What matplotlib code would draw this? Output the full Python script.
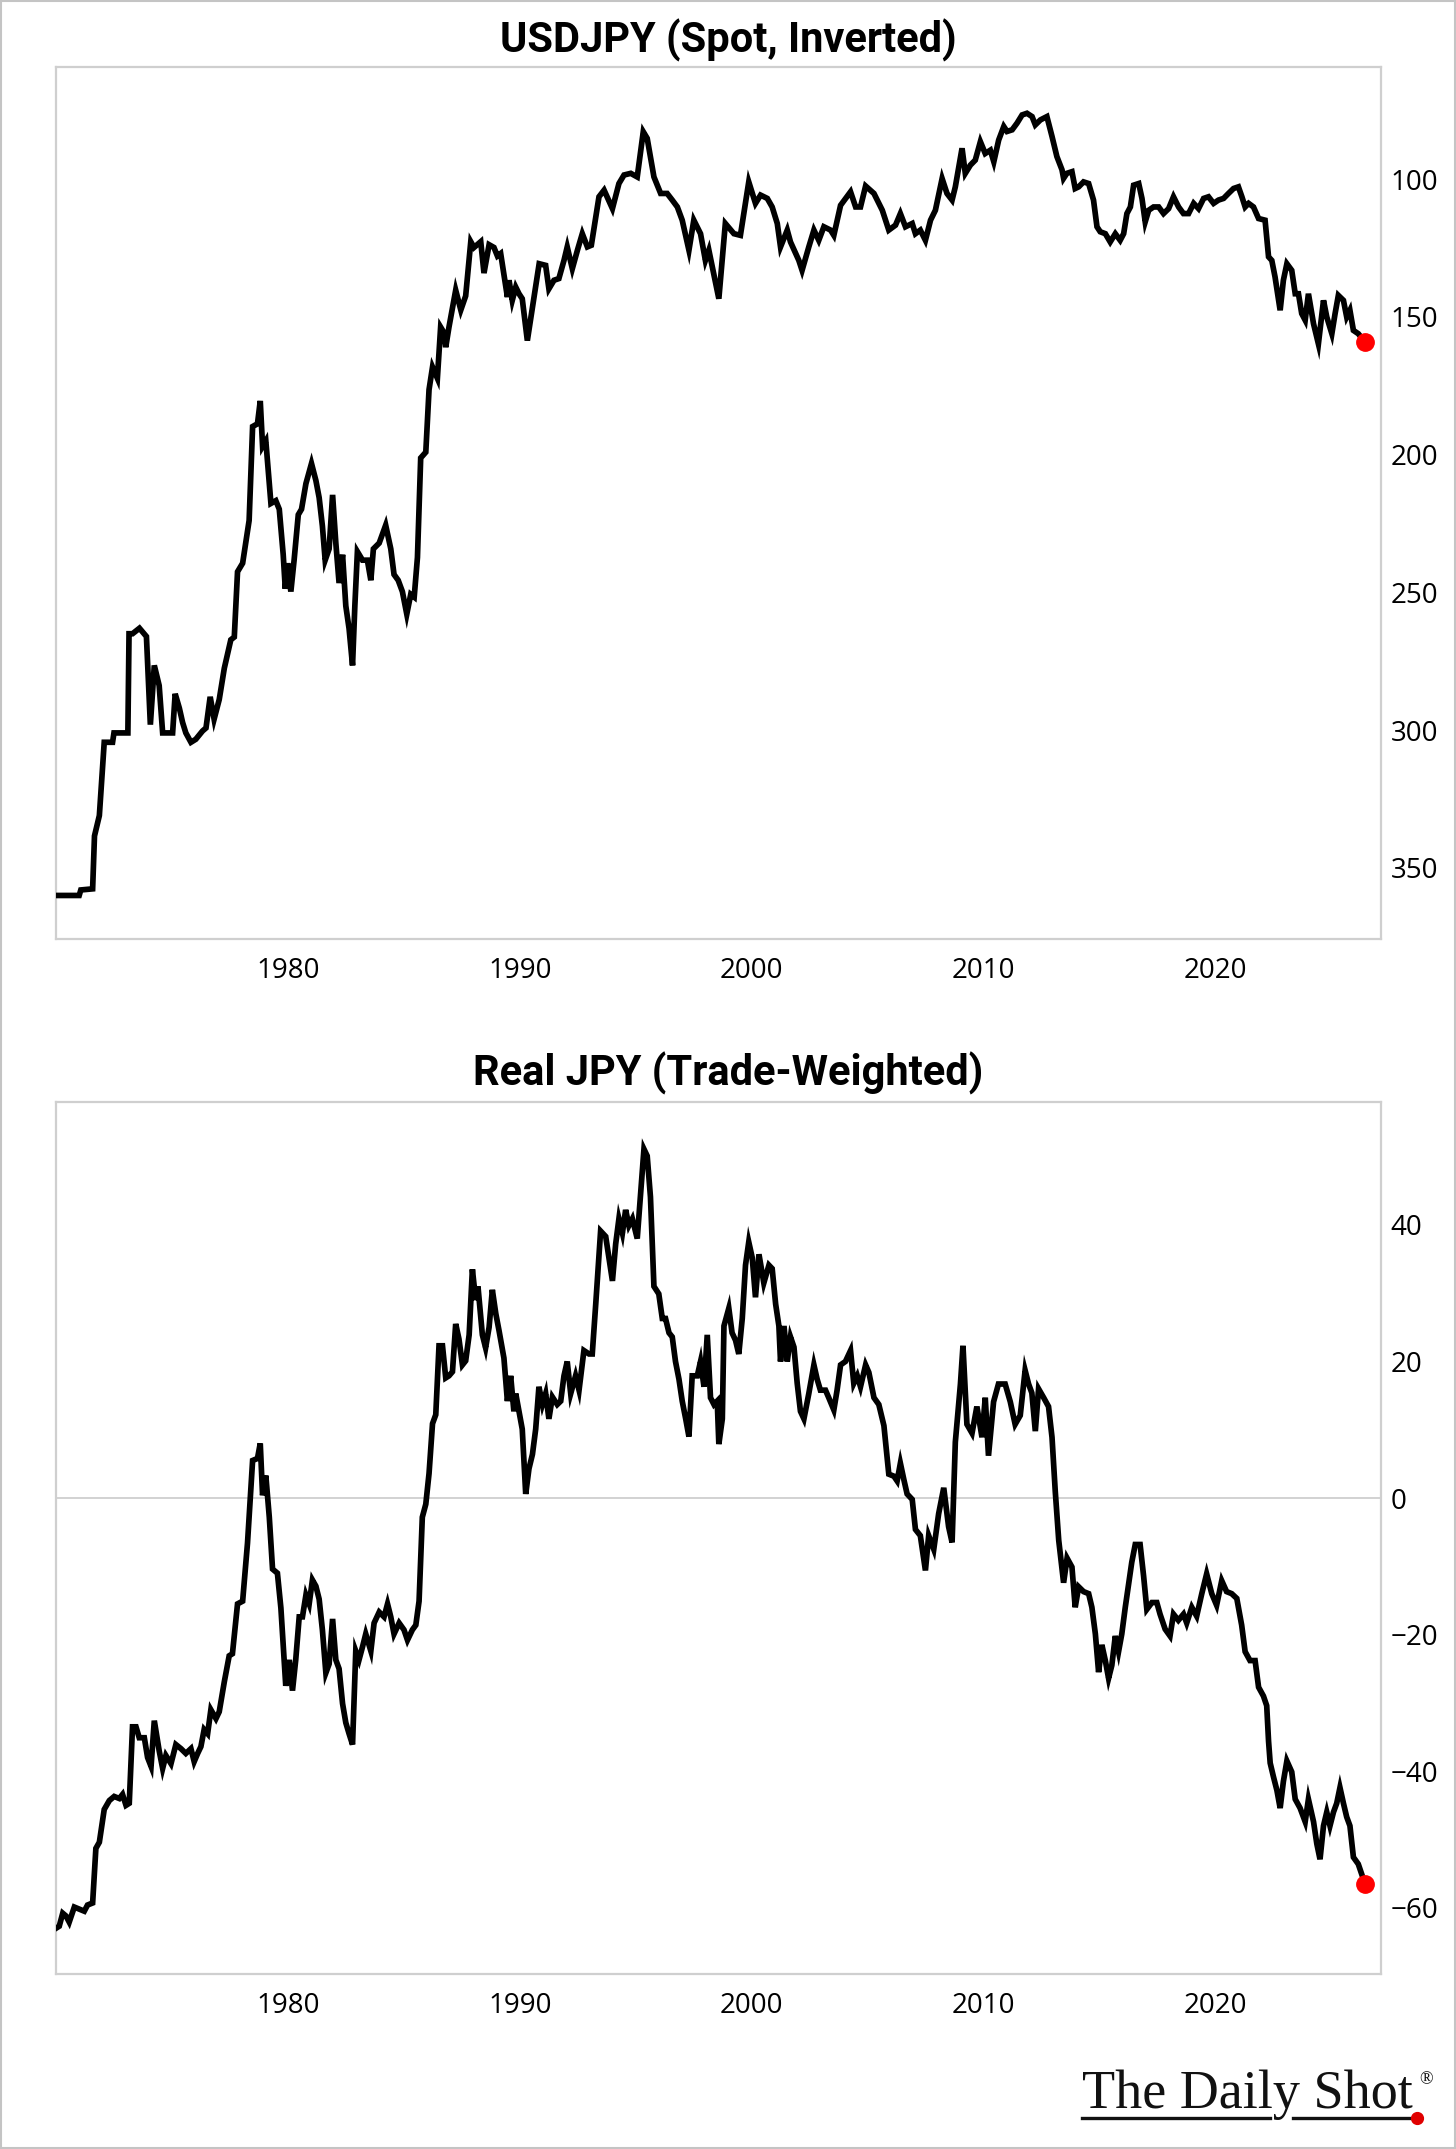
import matplotlib
matplotlib.use("Agg")
import matplotlib.pyplot as plt
from matplotlib import font_manager
from matplotlib.lines import Line2D
from matplotlib.patches import Rectangle

# ---------------- data ----------------
usdjpy_years = [1970.0, 1971.0, 1971.07, 1971.58, 1971.66, 1971.87, 1972.08, 1972.44, 1972.5, 1973.1,
    1973.15, 1973.3, 1973.6, 1973.9, 1974.07, 1974.24, 1974.45, 1974.6, 1975.03, 1975.14,
    1975.32, 1975.46, 1975.6, 1975.82, 1976.03, 1976.32, 1976.47, 1976.65, 1976.82, 1977.04,
    1977.26, 1977.54, 1977.69, 1977.83, 1978.05, 1978.33, 1978.48, 1978.69, 1978.81, 1978.91,
    1979.05, 1979.27, 1979.48, 1979.63, 1979.8, 1979.89, 1979.99, 1980.13, 1980.27, 1980.45,
    1980.59, 1980.78, 1981.02, 1981.21, 1981.35, 1981.49, 1981.61, 1981.78, 1981.93, 1982.07,
    1982.21, 1982.36, 1982.5, 1982.64, 1982.79, 1982.89, 1983.0, 1983.22, 1983.43, 1983.58,
    1983.69, 1983.94, 1984.22, 1984.44, 1984.58, 1984.76, 1984.94, 1985.13, 1985.3, 1985.45,
    1985.59, 1985.73, 1985.95, 1986.09, 1986.24, 1986.45, 1986.59, 1986.74, 1986.81, 1986.95,
    1987.24, 1987.46, 1987.67, 1987.89, 1988.03, 1988.32, 1988.46, 1988.68, 1988.89, 1989.04,
    1989.18, 1989.47, 1989.54, 1989.68, 1989.83, 1989.97, 1990.11, 1990.33, 1990.55, 1990.84,
    1991.12, 1991.26, 1991.48, 1991.69, 1991.91, 1992.05, 1992.27, 1992.49, 1992.7, 1992.92,
    1993.09, 1993.42, 1993.64, 1994.0, 1994.28, 1994.5, 1994.79, 1995.07, 1995.33, 1995.5,
    1995.79, 1996.08, 1996.36, 1996.58, 1996.8, 1997.01, 1997.3, 1997.51, 1997.8, 1998.01,
    1998.16, 1998.37, 1998.59, 1998.87, 1999.24, 1999.52, 1999.88, 2000.17, 2000.39, 2000.68,
    2000.89, 2001.11, 2001.25, 2001.54, 2001.68, 2002.04, 2002.18, 2002.47, 2002.69, 2002.9,
    2003.12, 2003.41, 2003.55, 2003.84, 2004.27, 2004.49, 2004.7, 2004.92, 2005.28, 2005.64,
    2005.92, 2006.21, 2006.42, 2006.64, 2006.93, 2007.07, 2007.28, 2007.5, 2007.72, 2007.93,
    2008.22, 2008.43, 2008.65, 2008.79, 2008.94, 2009.08, 2009.22, 2009.44, 2009.65, 2009.87,
    2010.08, 2010.3, 2010.45, 2010.66, 2010.88, 2011.02, 2011.24, 2011.45, 2011.67, 2011.88,
    2012.1, 2012.24, 2012.46, 2012.74, 2012.96, 2013.17, 2013.39, 2013.46, 2013.6, 2013.82,
    2013.96, 2014.11, 2014.32, 2014.54, 2014.75, 2014.9, 2015.04, 2015.26, 2015.47, 2015.69,
    2015.9, 2016.05, 2016.19, 2016.34, 2016.48, 2016.7, 2016.84, 2016.98, 2017.13, 2017.34,
    2017.56, 2017.77, 2017.99, 2018.2, 2018.42, 2018.63, 2018.85, 2019.07, 2019.28, 2019.5,
    2019.71, 2019.93, 2020.14, 2020.36, 2020.57, 2020.79, 2021.0, 2021.15, 2021.29, 2021.44,
    2021.65, 2021.87, 2022.15, 2022.3, 2022.44, 2022.58, 2022.8, 2022.94, 2023.09, 2023.3,
    2023.45, 2023.59, 2023.73, 2023.88, 2024.02, 2024.24, 2024.45, 2024.67, 2024.81, 2025.03,
    2025.17, 2025.31, 2025.53, 2025.67, 2025.81, 2025.96, 2026.17, 2026.46]
usdjpy_values = [360, 360, 358, 357.6, 338.4, 331, 304.4, 304.4, 301, 301,
    265, 265, 263, 266, 298, 276.5, 283.8, 301, 301, 286.8,
    292, 297.2, 301, 304.4, 303.3, 300.3, 299.2, 287.9, 296, 288.9,
    277.5, 267.2, 266.2, 242.5, 239.4, 223.9, 189.8, 188.8, 180.5, 197,
    195, 217.7, 216.7, 219.8, 236.3, 248.7, 239.4, 249.7, 238.3, 221.8,
    219.8, 210.5, 203.2, 209.4, 215.6, 225.9, 238.3, 234.2, 214.6, 232.1,
    246.6, 236.3, 254.9, 263.1, 276.5, 254.9, 235.2, 238.3, 238.3, 245.6,
    234.2, 232.1, 225.6, 234.2, 243.5, 245.6, 249.7, 257.9, 250.7, 251.7,
    237.3, 201.2, 199.1, 176.4, 168.2, 172.3, 153.7, 155.8, 161, 153.7,
    140.3, 147.5, 142.4, 122.7, 124.8, 122.7, 134.1, 123.8, 124.8, 127.9,
    127.0, 142.8, 136.7, 144, 139.2, 141.6, 143.4, 158.6, 146.5, 130.7,
    131.3, 139.8, 136.7, 136.1, 129.5, 124.6, 132.5, 125.8, 119.8, 124.6,
    124, 106.4, 104, 110.7, 101.6, 98.5, 97.9, 99.2, 82.8, 85.2,
    99.2, 105.2, 105.2, 107.6, 110.1, 114.9, 125.8, 114.9, 119.8, 129.5,
    125.8, 134.3, 143.4, 116.1, 119.8, 120.4, 101, 108.8, 105.8, 107,
    110.1, 116.1, 124.6, 118.5, 122.8, 129.5, 133.1, 124.6, 118.5, 122.2,
    117.3, 118.5, 120.4, 109.5, 104.6, 110.1, 110.1, 102.5, 105.2, 111.3,
    118.5, 116.7, 112.5, 117.3, 116.1, 119.8, 118.5, 122.2, 114.9, 111.3,
    99.8, 105.2, 107.6, 102.8, 95.5, 88.8, 97.9, 94.9, 93.1, 86.4,
    90.7, 89.5, 93.7, 85.8, 80.9, 82.7, 82.1, 79.7, 76.7, 76.1,
    77.3, 80.3, 78.5, 77.3, 84.5, 91.8, 96.6, 99.7, 97.9, 97.3,
    103.4, 102.8, 101, 101.6, 107.6, 117.3, 119.1, 119.8, 122.8, 119.8,
    122.2, 119.8, 112.5, 110.1, 102.2, 101.6, 107, 115.5, 111.3, 110.1,
    110.1, 112.5, 110.7, 106.4, 110.1, 112.5, 112.5, 108.8, 110.7, 107,
    106.4, 108.8, 107.6, 107, 105.2, 103.4, 102.8, 106.4, 110.1, 108.8,
    110.1, 114.3, 114.9, 128.2, 129.5, 135.5, 147.6, 136.7, 130.7, 133.1,
    141.6, 141.6, 148.8, 151.2, 141.6, 152.5, 159.8, 144, 150, 156.1,
    148.8, 142.2, 144, 150, 147.6, 154.9, 156.1, 159.1]

realjpy_years = [1970.0, 1970.14, 1970.29, 1970.43, 1970.57, 1970.79, 1971.0, 1971.22, 1971.36, 1971.58,
    1971.72, 1971.87, 1972.08, 1972.3, 1972.51, 1972.73, 1972.87, 1973.02, 1973.16, 1973.3,
    1973.45, 1973.59, 1973.81, 1973.95, 1974.1, 1974.24, 1974.45, 1974.6, 1974.74, 1974.96,
    1975.17, 1975.39, 1975.6, 1975.82, 1975.96, 1976.11, 1976.25, 1976.39, 1976.54, 1976.68,
    1976.9, 1977.04, 1977.26, 1977.47, 1977.61, 1977.83, 1978.05, 1978.26, 1978.48, 1978.69,
    1978.81, 1978.91, 1979.05, 1979.2, 1979.34, 1979.55, 1979.7, 1979.84, 1979.91, 1980.06,
    1980.2, 1980.34, 1980.49, 1980.63, 1980.78, 1980.92, 1981.06, 1981.21, 1981.35, 1981.49,
    1981.64, 1981.78, 1981.93, 1982.07, 1982.21, 1982.36, 1982.5, 1982.64, 1982.79, 1982.93,
    1983.07, 1983.22, 1983.36, 1983.58, 1983.72, 1983.94, 1984.15, 1984.3, 1984.44, 1984.58,
    1984.8, 1985.01, 1985.16, 1985.37, 1985.52, 1985.66, 1985.8, 1985.95, 1986.09, 1986.24,
    1986.38, 1986.52, 1986.67, 1986.81, 1986.95, 1987.1, 1987.24, 1987.38, 1987.53, 1987.67,
    1987.82, 1987.96, 1988.1, 1988.2, 1988.39, 1988.53, 1988.68, 1988.82, 1988.97, 1989.11,
    1989.32, 1989.47, 1989.61, 1989.75, 1989.83, 1989.97, 1990.11, 1990.26, 1990.4, 1990.55,
    1990.69, 1990.83, 1990.98, 1991.12, 1991.26, 1991.41, 1991.62, 1991.77, 1991.91, 1992.05,
    1992.2, 1992.41, 1992.56, 1992.77, 1992.99, 1993.13, 1993.28, 1993.49, 1993.71, 1994.0,
    1994.14, 1994.28, 1994.43, 1994.57, 1994.71, 1994.86, 1995.07, 1995.36, 1995.5, 1995.64,
    1995.79, 1996.0, 1996.15, 1996.29, 1996.44, 1996.58, 1996.72, 1996.87, 1997.01, 1997.16,
    1997.3, 1997.44, 1997.66, 1997.8, 1997.95, 1998.09, 1998.23, 1998.38, 1998.52, 1998.59,
    1998.74, 1998.81, 1999.02, 1999.16, 1999.31, 1999.45, 1999.6, 1999.74, 1999.88, 2000.03,
    2000.17, 2000.32, 2000.53, 2000.75, 2000.89, 2001.04, 2001.18, 2001.25, 2001.4, 2001.54,
    2001.68, 2001.83, 2001.97, 2002.11, 2002.26, 2002.47, 2002.69, 2002.83, 2002.97, 2003.19,
    2003.33, 2003.55, 2003.69, 2003.84, 2004.05, 2004.27, 2004.41, 2004.56, 2004.7, 2004.92,
    2005.06, 2005.28, 2005.49, 2005.71, 2005.92, 2006.14, 2006.28, 2006.42, 2006.57, 2006.71,
    2006.93, 2007.07, 2007.28, 2007.5, 2007.64, 2007.86, 2008.07, 2008.29, 2008.5, 2008.65,
    2008.79, 2009.01, 2009.12, 2009.29, 2009.51, 2009.72, 2009.94, 2010.08, 2010.22, 2010.44,
    2010.65, 2010.94, 2011.16, 2011.37, 2011.59, 2011.8, 2011.95, 2012.09, 2012.24, 2012.38,
    2012.6, 2012.81, 2012.96, 2013.1, 2013.25, 2013.46, 2013.61, 2013.82, 2013.96, 2014.11,
    2014.32, 2014.54, 2014.68, 2014.83, 2014.97, 2015.11, 2015.26, 2015.4, 2015.54, 2015.69,
    2015.83, 2015.97, 2016.12, 2016.26, 2016.4, 2016.55, 2016.76, 2016.91, 2017.05, 2017.27,
    2017.48, 2017.62, 2017.84, 2018.05, 2018.2, 2018.41, 2018.63, 2018.77, 2018.99, 2019.2,
    2019.42, 2019.63, 2019.85, 2020.06, 2020.28, 2020.49, 2020.71, 2020.93, 2021.14, 2021.29,
    2021.5, 2021.72, 2021.87, 2022.08, 2022.22, 2022.3, 2022.37, 2022.51, 2022.66, 2022.8,
    2022.94, 2023.09, 2023.3, 2023.45, 2023.66, 2023.88, 2024.02, 2024.24, 2024.38, 2024.52,
    2024.67, 2024.81, 2024.95, 2025.1, 2025.24, 2025.38, 2025.53, 2025.67, 2025.81, 2025.96,
    2026.17, 2026.46]
realjpy_values = [-63, -62.7, -60.8, -61.2, -62.1, -59.9, -60.2, -60.5, -59.6, -59.3,
    -51.3, -50.4, -45.6, -44.3, -43.7, -44, -43.4, -45, -44.7, -33.5,
    -33.5, -35.1, -35.1, -38, -39.3, -32.6, -37, -39.6, -37.7, -38.9,
    -36.1, -36.7, -37.4, -36.7, -38.6, -37.4, -36.4, -33.9, -34.5, -31,
    -32.3, -31.3, -26.9, -23.1, -22.8, -15.5, -15.1, -6.6, 5.5, 5.8,
    8, 0.4, 3.3, -2.8, -10.4, -11, -16.1, -23.7, -27.5, -23.7,
    -28.2, -23.7, -17.4, -17.4, -14.2, -15.5, -12, -12.9, -14.8, -19.3,
    -25.6, -24.3, -17.7, -23.7, -25, -30.1, -32.9, -34.5, -36.1, -22.4,
    -23.7, -21.8, -19.9, -22.4, -18.3, -16.7, -17.4, -15.5, -17.4, -19.9,
    -18.3, -19.3, -20.8, -19.3, -18.6, -15.1, -2.8, -0.9, 3.6, 10.9,
    12.2, 22.3, 22.3, 17.6, 17.9, 18.5, 25.5, 23.3, 19.5, 20.1,
    23.9, 33.5, 29, 31, 23.9, 22, 25, 30.5, 27, 24.5,
    20.5, 14.2, 17.9, 12.7, 15.3, 12.7, 10.1, 0.6, 4.3, 6.4,
    10.1, 16.3, 13.7, 15.3, 11.6, 14.8, 13.7, 14.2, 17.9, 20,
    15.3, 17.9, 15.8, 21.6, 21.1, 21.1, 28.4, 39.1, 38.3, 31.8,
    37.2, 40.9, 38.8, 42.2, 39.9, 40.9, 38, 51.1, 50.1, 44.1,
    31, 29.9, 26.3, 26.3, 24.2, 23.6, 20, 17.4, 14.2, 11.6,
    9, 17.9, 17.9, 20, 16.3, 23.9, 14.7, 13.7, 14.2, 7.9,
    11.6, 25.2, 27.8, 24.2, 23.1, 21.1, 26.3, 34.1, 37.5, 35.2,
    29.4, 35.7, 31.5, 34.1, 33.6, 28.4, 25.2, 20, 25.2, 20,
    23.6, 22.1, 16.8, 12.7, 11.6, 15.3, 19.5, 17.4, 15.8, 15.8,
    14.7, 12.9, 15.8, 19.5, 20, 21.6, 16.8, 17.9, 16.3, 19.5,
    18.4, 14.7, 13.7, 10.6, 3.5, 3.2, 2.5, 5.1, 2.7, 0.6,
    -0.2, -4.6, -5.5, -10.6, -5.5, -7.5, -2.3, 1.5, -4.2, -6.5,
    8.2, 16.7, 22.3, 10.8, 9.5, 13.4, 8.9, 14.7, 6.2, 14.1,
    16.7, 16.7, 14.1, 10.8, 12.1, 18.7, 16.7, 15.4, 9.8, 16,
    14.7, 13.4, 8.9, 1, -6.2, -12.4, -8.8, -10.1, -16, -13,
    -13.7, -14, -16, -19.9, -25.5, -21.5, -23.8, -26.4, -24.5, -20.2,
    -22.5, -19.9, -16, -12.7, -9.4, -6.8, -6.8, -11.4, -16.3, -15.3,
    -15.3, -17, -19.2, -20.2, -17, -17.9, -17, -18.3, -16, -17.3,
    -14, -11.1, -14, -15.7, -12.1, -13.7, -14, -14.7, -18.6, -22.5,
    -23.8, -23.8, -27.7, -29, -30.4, -35.6, -38.8, -40.8, -42.8, -45.4,
    -41.5, -38.5, -40.1, -44.1, -45.4, -47.4, -44.1, -47.4, -50.6, -52.9,
    -48, -46, -48, -46, -44.7, -42.4, -44.7, -46.7, -48, -52.6,
    -53.6, -56.5]

titles = ["USDJPY (Spot, Inverted)", "Real JPY (Trade-Weighted)"]
x_ticks = [1980, 1990, 2000, 2010, 2020]
usdjpy_ticks = [100, 150, 200, 250, 300, 350]
realjpy_ticks = [-60, -40, -20, 0, 20, 40]

# ---------------- style ----------------
available = {f.name for f in font_manager.fontManager.ttflist}
title_font = "Liberation Sans Narrow" if "Liberation Sans Narrow" in available else "Roboto"
tick_font = "Open Sans" if "Open Sans" in available else "DejaVu Sans"
serif_font = "Liberation Serif" if "Liberation Serif" in available else "DejaVu Serif"

W, H = 1456, 2149
fig = plt.figure(figsize=(W / 100, H / 100), dpi=100)
fig.patch.set_facecolor("white")

def fx(px):
    return px / W

def fy(py):
    return 1 - py / H

spine_color = "#cfcfcf"

def make_axes(top, bottom):
    ax = fig.add_axes([fx(56), fy(bottom), fx(1381) - fx(56), fy(top) - fy(bottom)])
    for s in ax.spines.values():
        s.set_color(spine_color)
        s.set_linewidth(1.6)
    ax.yaxis.tick_right()
    ax.tick_params(axis="both", length=0, labelsize=20, colors="black")
    ax.tick_params(axis="x", pad=13)
    ax.tick_params(axis="y", pad=7)
    return ax

LW = 4.1

# top panel
ax1 = make_axes(67, 939)
ax1.plot(usdjpy_years, usdjpy_values, color="black", lw=LW, solid_joinstyle="miter", zorder=3)
ax1.plot(usdjpy_years[-1], usdjpy_values[-1], "o", color="#ff0000", ms=12.5, zorder=4)
ax1.set_xlim(1970.0, 2027.15)
ax1.set_ylim(375.8, 59.3)
ax1.set_xticks(x_ticks)
ax1.set_xticklabels([str(t) for t in x_ticks], family=[tick_font, "DejaVu Sans"])
ax1.set_yticks(usdjpy_ticks)
ax1.set_yticklabels([str(t) for t in usdjpy_ticks], family=[tick_font, "DejaVu Sans"])

# bottom panel
ax2 = make_axes(1102, 1974)
ax2.axhline(0, color="#cfcfcf", lw=1.3, zorder=1)
ax2.plot(realjpy_years, realjpy_values, color="black", lw=LW, solid_joinstyle="miter", zorder=3)
ax2.plot(realjpy_years[-1], realjpy_values[-1], "o", color="#ff0000", ms=12.5, zorder=4)
ax2.set_xlim(1970.0, 2027.15)
ax2.set_ylim(-69.7, 58.0)
ax2.set_xticks(x_ticks)
ax2.set_xticklabels([str(t) for t in x_ticks], family=[tick_font, "DejaVu Sans"])
ax2.set_yticks(realjpy_ticks)
ax2.set_yticklabels([("\u2212" + str(-t)) if t < 0 else str(t) for t in realjpy_ticks],
                    family=[tick_font, "DejaVu Sans"])

# titles
fig.text(0.5, fy(40), titles[0], ha="center", va="center", fontsize=30,
         fontweight="bold", family=[title_font, "DejaVu Sans"])
fig.text(0.5, fy(1073), titles[1], ha="center", va="center", fontsize=30,
         fontweight="bold", family=[title_font, "DejaVu Sans"])

# logo
fig.text(fx(1082), fy(2108), "The Daily Shot", ha="left", va="baseline",
         fontsize=39, family=[serif_font, "DejaVu Serif"], color="#111111")
fig.text(fx(1419), fy(2084), "\u00ae", ha="left", va="baseline",
         fontsize=13, family=[serif_font, "DejaVu Serif"], color="#111111")
fig.add_artist(Line2D([fx(1082), fx(1270)], [fy(2118), fy(2118)], color="#111111", lw=2.4))
fig.add_artist(Line2D([fx(1293), fx(1413)], [fy(2118), fy(2118)], color="#111111", lw=2.4))
fig.add_artist(Line2D([fx(1417)], [fy(2118)], marker="o", color="#e00000", ms=8.5, lw=0))

# outer frame
fig.add_artist(Rectangle((fx(1), fy(H - 1)), fx(W - 2), fy(1) - fy(H - 1), transform=fig.transFigure,
                         fill=False, edgecolor="#c4c4c4", lw=1.5))

fig.savefig("out.png", dpi=100, facecolor="white")
